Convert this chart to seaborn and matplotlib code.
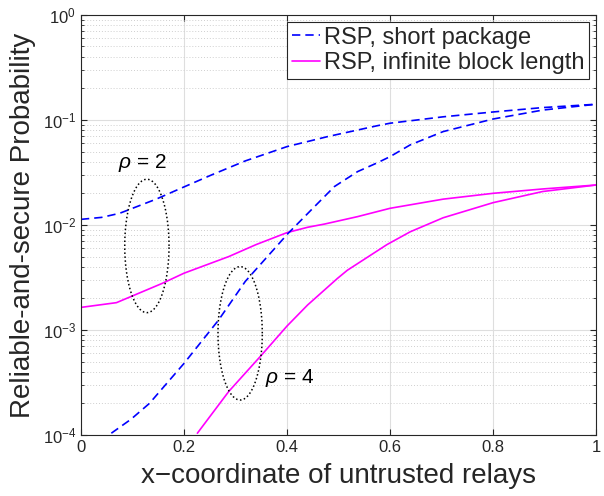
import numpy as np
import pandas as pd
import matplotlib
matplotlib.use("Agg")
import matplotlib.pyplot as plt
import seaborn as sns

# valores
x_sp_rho2 = [0, 0.04, 0.075, 0.146, 0.19, 0.254, 0.319, 0.4, 0.479, 0.575, 0.6, 0.703, 0.8, 0.896, 1.0]
y_sp_rho2 = [0.0113, 0.0118, 0.0129, 0.0176, 0.0219, 0.030, 0.0407, 0.0557, 0.0694, 0.088, 0.093, 0.107, 0.119, 0.131, 0.141]

x_sp_rho4 = [0.059, 0.097, 0.133, 0.2, 0.267, 0.319, 0.402, 0.447, 0.492, 0.537, 0.575, 0.6, 0.639, 0.703, 0.8, 0.896, 1.0]
y_sp_rho4 = [1.04e-4, 1.41e-4, 2.0e-4, 4.8e-4, 1.24e-3, 2.9e-3, 8.3e-3, 0.0139, 0.0232, 0.0322, 0.039, 0.0447, 0.0578, 0.0774, 0.102, 0.124, 0.141]

x_inf_rho2 = [0, 0.069, 0.094, 0.158, 0.2, 0.287, 0.34, 0.4, 0.44, 0.473, 0.537, 0.6, 0.703, 0.8, 0.896, 1.0]
y_inf_rho2 = [1.64e-3, 1.82e-3, 2.05e-3, 2.78e-3, 3.47e-3, 5.0e-3, 6.5e-3, 8.45e-3, 9.5e-3, 0.0102, 0.012, 0.0144, 0.0176, 0.020, 0.022, 0.024]

x_inf_rho4 = [0.226, 0.287, 0.351, 0.4, 0.44, 0.498, 0.517, 0.594, 0.639, 0.703, 0.8, 0.896, 1.0]
y_inf_rho4 = [1.04e-4, 2.6e-4, 5.8e-4, 1.09e-3, 1.73e-3, 3.1e-3, 3.7e-3, 6.5e-3, 8.6e-3, 0.0117, 0.0163, 0.0208, 0.024]

legenda = ["RSP, short package", "RSP, infinite block length"]
xticks = [0, 0.2, 0.4, 0.6, 0.8, 1]
xtick_labels = ["0", "0.2", "0.4", "0.6", "0.8", "1"]

# elipses (centro x, meia largura, centro log10 y, meia altura em decadas)
elipse_rho2 = [0.128, 0.043, -2.20, 0.635]
elipse_rho4 = [0.309, 0.043, -3.032, 0.635]
rotulos_rho = [(0.12, 0.039, "2"), (0.405, 3.47e-4, "4")]

sns.set_style("ticks")
plt.rcParams["font.family"] = ["Liberation Sans", "DejaVu Sans"]
plt.rcParams["mathtext.fontset"] = "custom"
plt.rcParams["mathtext.rm"] = "Liberation Sans"
plt.rcParams["mathtext.it"] = "Liberation Sans:italic"
plt.rcParams["mathtext.default"] = "regular"

cor_eixo = "#262626"
azul = "#0000FF"
magenta = "#FF00FF"

fig = plt.figure(figsize=(6.04, 4.96), dpi=100)
ax = fig.add_axes([0.134, 0.123, 0.853, 0.847])

sns.lineplot(x=x_sp_rho2, y=y_sp_rho2, ax=ax, color=azul, lw=1.2, label=legenda[0])
sns.lineplot(x=x_inf_rho2, y=y_inf_rho2, ax=ax, color=magenta, lw=1.2, label=legenda[1])
sns.lineplot(x=x_sp_rho4, y=y_sp_rho4, ax=ax, color=azul, lw=1.2, label="_nolegend_")
sns.lineplot(x=x_inf_rho4, y=y_inf_rho4, ax=ax, color=magenta, lw=1.2, label="_nolegend_")
ax.lines[0].set_dashes((5, 3))
ax.lines[2].set_dashes((5, 3))

# elipses pontilhadas
t = np.linspace(0, 2 * np.pi, 200)
for cx, a, cy, b in [elipse_rho2, elipse_rho4]:
    ax.plot(cx + a * np.cos(t), 10 ** (cy + b * np.sin(t)), color="black", lw=1.1, ls=(0, (1, 1.6)))

for x, y, r in rotulos_rho:
    ax.text(x, y, r"$\mathit{\rho}$ = " + r, ha="center", va="center", fontsize=15, color="black")

ax.set_yscale("log")
ax.set_xlim(0, 1)
ax.set_ylim(1e-4, 1)
ax.set_xticks(xticks)
ax.set_xticklabels(xtick_labels)

ax.grid(True, which="major", color="#dedede", lw=0.8)
ax.grid(True, which="minor", axis="y", color="#cfcfcf", lw=0.7, ls=(0, (1, 2)))
ax.set_axisbelow(True)

ax.tick_params(which="both", direction="in", top=True, right=True, colors=cor_eixo, labelsize=12)
ax.tick_params(which="major", length=4, width=0.8)
ax.tick_params(which="minor", length=2.2, width=0.6)
for s in ax.spines.values():
    s.set_color(cor_eixo)
    s.set_linewidth(0.8)

ax.set_xlabel("x\u2212coordinate of untrusted relays", fontsize=20, color=cor_eixo, labelpad=6)
ax.set_ylabel("Reliable-and-secure Probability", fontsize=20, color=cor_eixo, labelpad=5)

leg = ax.legend(loc="upper right", fontsize=17, frameon=True, fancybox=False, edgecolor=cor_eixo,
                framealpha=1, borderaxespad=0.3, borderpad=0.2, handlelength=1.2,
                handletextpad=0.15, labelspacing=0.15)
leg.get_frame().set_linewidth(0.8)

fig.savefig("out.png", dpi=100)
